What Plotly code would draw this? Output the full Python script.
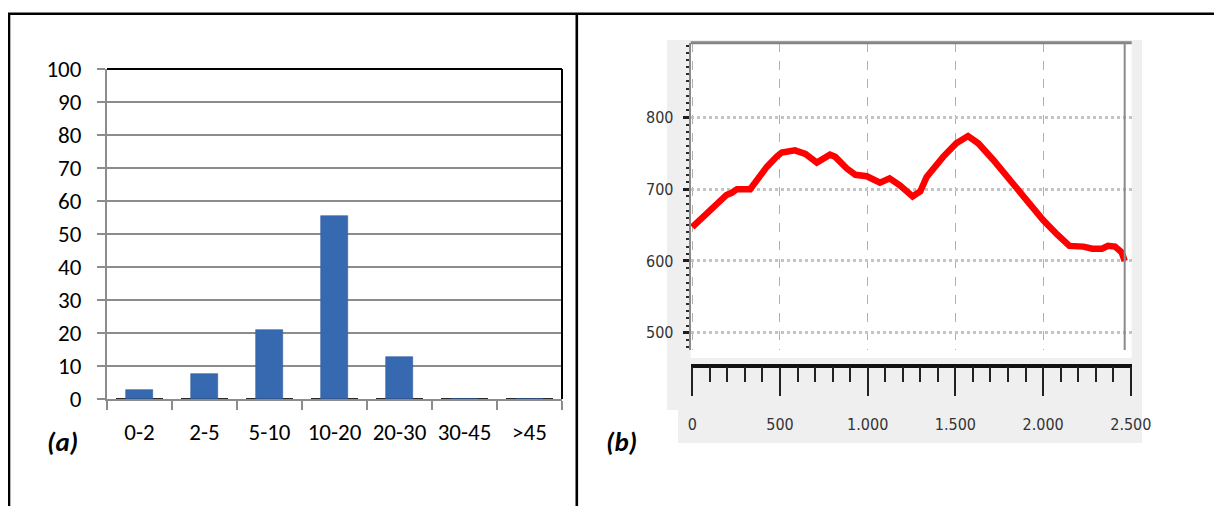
import plotly.graph_objects as go

# ---------------- data ----------------
categories = ["0-2", "2-5", "5-10", "10-20", "20-30", "30-45", ">45"]
share_pct = [2.7, 7.5, 20.8, 55.5, 12.6, 0, 0]
y_ticks_a = [0, 10, 20, 30, 40, 50, 60, 70, 80, 90, 100]

dist_m = [0, 60, 140, 195, 225, 255, 330, 370, 425, 480,
          510, 585, 645, 710, 740, 785, 815, 880, 930, 995,
          1070, 1125, 1185, 1256, 1300, 1336, 1430, 1505, 1572, 1630,
          1715, 1810, 1905, 2000, 2080, 2150, 2230, 2280, 2335, 2370,
          2410, 2448, 2465]
elev_m = [647, 660, 678, 692, 695, 700, 700, 713, 731, 745,
          751, 754, 749, 737, 742, 748, 745, 729, 720, 718,
          709, 715, 705, 690, 697, 717, 745, 764, 774, 764,
          741, 713, 685, 657, 637, 621, 620, 617, 617, 621,
          620, 612, 600]
y_ticks_b = [500, 600, 700, 800]
x_ticks_b = [0, 500, 1000, 1500, 2000, 2500]
x_ticktext_b = ["0", "500", "1.000", "1.500", "2.000", "2.500"]

# ---------------- layout helpers ----------------
W, H = 1222, 506
OFF = 8  # page body margin in which the figure is placed

def fx(px):
    return (px - OFF) / W

def fy(py):
    return 1 - (py - OFF) / H

FONT_A = "Carlito, Lato, 'Open Sans', sans-serif"
FONT_B = "'Liberation Sans Narrow', 'DejaVu Sans Condensed', sans-serif"

fig = go.Figure()

# bar base shadows (dark line at zero under each category)
fig.add_trace(go.Bar(x=categories, y=[0.7] * len(categories), base=-0.35,
                     width=0.71, marker=dict(color="#2a2a2a", line=dict(width=0)),
                     xaxis="x", yaxis="y", hoverinfo="skip", showlegend=False))
fig.add_trace(go.Bar(x=categories, y=share_pct, width=0.42,
                     marker=dict(color="#3769b1", line=dict(color="#2f5c9c", width=0.6)),
                     xaxis="x", yaxis="y", showlegend=False))

# elevation profile
fig.add_trace(go.Scatter(x=dist_m, y=elev_m, mode="lines",
                         line=dict(color="#ff0000", width=6.5),
                         xaxis="x2", yaxis="y2", showlegend=False))
# invisible trace for ruler axis
fig.add_trace(go.Scatter(x=[x_ticks_b[0], x_ticks_b[-1]], y=[y_ticks_b[0], y_ticks_b[0]],
                         mode="markers", marker=dict(opacity=0), hoverinfo="skip",
                         xaxis="x3", yaxis="y2", showlegend=False))

shapes = [
    # outer table frame
    dict(type="line", xref="paper", yref="paper", x0=fx(8), x1=fx(1230), y0=fy(13.8), y1=fy(13.8),
         line=dict(color="black", width=2.6)),
    dict(type="line", xref="paper", yref="paper", x0=fx(9), x1=fx(9), y0=fy(13), y1=fy(520),
         line=dict(color="black", width=2.6)),
    dict(type="line", xref="paper", yref="paper", x0=fx(576.8), x1=fx(576.8), y0=fy(13), y1=fy(520),
         line=dict(color="black", width=2.6)),
    # chart (a) black top and right borders
    dict(type="line", xref="x domain", yref="y domain", x0=0, x1=1, y0=1, y1=1,
         line=dict(color="black", width=2)),
    dict(type="line", xref="x domain", yref="y domain", x0=1, x1=1, y0=0, y1=1,
         line=dict(color="black", width=2)),
    # chart (b) grey panel
    dict(type="rect", xref="paper", yref="paper", x0=fx(667), x1=fx(1142), y0=fy(410), y1=fy(40),
         fillcolor="#efefef", line=dict(width=0), layer="below"),
    dict(type="rect", xref="paper", yref="paper", x0=fx(678), x1=fx(1142), y0=fy(443), y1=fy(410),
         fillcolor="#efefef", line=dict(width=0), layer="below"),
    dict(type="rect", xref="paper", yref="paper", x0=fx(690.7), x1=fx(1131.7), y0=fy(358), y1=fy(42.7),
         fillcolor="white", line=dict(width=0), layer="below"),
    # chart (b) top frame
    dict(type="line", xref="x2 domain", yref="y2 domain", x0=0, x1=1, y0=1, y1=1,
         line=dict(color="#858585", width=3)),
    # cursor line at end of profile
    dict(type="line", xref="x2", yref="y2 domain", x0=dist_m[-1], x1=dist_m[-1], y0=0, y1=1,
         line=dict(color="#8a8a8a", width=2)),
]

annotations = [
    dict(text="<b><i>(a)</i></b>", xref="paper", yref="paper", x=fx(62), y=fy(441),
         xanchor="center", yanchor="middle",
         showarrow=False, font=dict(family=FONT_A, size=27, color="black")),
    dict(text="<b><i>(b)</i></b>", xref="paper", yref="paper", x=fx(621), y=fy(441),
         xanchor="center", yanchor="middle",
         showarrow=False, font=dict(family=FONT_A, size=27, color="black")),
]

fig.update_layout(
    template="none",
    width=W, height=H,
    margin=dict(l=0, r=0, t=0, b=0, pad=0, autoexpand=False),
    paper_bgcolor="white", plot_bgcolor="rgba(0,0,0,0)",
    barmode="overlay", bargap=0,
    showlegend=False,
    shapes=shapes, annotations=annotations,
    xaxis=dict(domain=[fx(107), fx(562)], anchor="y", automargin=False,
               showline=True, linecolor="#8c8c8c", linewidth=2,
               ticks="outside", tickson="boundaries", ticklen=9, tickwidth=1.5,
               tickcolor="#8c8c8c", showgrid=False, ticklabelstandoff=11,
               tickfont=dict(family=FONT_A, size=23, color="black")),
    yaxis=dict(domain=[fy(399), fy(69)], anchor="x", range=[0, 100], automargin=False,
               tickvals=y_ticks_a, showline=True, linecolor="#8c8c8c", linewidth=2,
               ticks="outside", ticklen=8, tickwidth=1.5, tickcolor="#8c8c8c",
               showgrid=True, gridcolor="#8c8c8c", gridwidth=1.5, zeroline=False,
               ticklabelstandoff=11,
               tickfont=dict(family=FONT_A, size=23, color="black")),
    xaxis2=dict(domain=[fx(690.7), fx(1131.7)], anchor="y2", range=[-9, 2505],
                automargin=False,
                tickvals=x_ticks_b, showticklabels=False, ticks="",
                showgrid=True, gridcolor="#b0b0b0", gridwidth=1, griddash="dash",
                zeroline=False, showline=False),
    yaxis2=dict(domain=[fy(350), fy(42.7)], anchor="x2", range=[476, 904],
                automargin=False,
                tickvals=y_ticks_b, showline=True, linecolor="#8a8a8a", linewidth=2,
                ticks="outside", ticklen=6, tickwidth=2.5, tickcolor="#1e1e1e",
                minor=dict(dtick=10, ticks="outside", ticklen=3, tickwidth=2,
                           tickcolor="#2a2a2a", showgrid=False),
                showgrid=True, gridcolor="#c4c4c4", gridwidth=2.5, griddash="dot",
                zeroline=False, ticklabelstandoff=6,
                tickfont=dict(family=FONT_B, size=16, color="#333333")),
    xaxis3=dict(overlaying="x2", anchor="free", position=fy(365.7), side="bottom",
                automargin=False,
                range=[-9, 2505], tickvals=x_ticks_b, ticktext=x_ticktext_b,
                showline=True, linecolor="#111111", linewidth=3.5,
                ticks="outside", ticklen=29, tickwidth=1.5, tickcolor="#222222",
                minor=dict(dtick=100, tick0=0, ticks="outside", ticklen=15, tickwidth=1.5,
                           tickcolor="#222222", showgrid=False),
                showgrid=False, zeroline=False, ticklabelstandoff=14,
                tickfont=dict(family=FONT_B, size=16, color="#333333")),
)

fig.write_html("out.html")
